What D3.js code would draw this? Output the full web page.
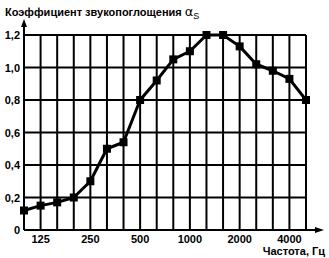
<!DOCTYPE html>
<html><head><meta charset="utf-8">
<script src="https://cdn.jsdelivr.net/npm/d3@7"></script>
<style>
body{margin:0;background:#fff;}
svg{display:block;}
text{font-family:"Liberation Sans",Arial,sans-serif;font-weight:bold;fill:#000;}
</style></head>
<body>
<svg id="c" width="329" height="258"></svg>
<script>
const frequencies = ["100","125","160","200","250","315","400","500","630","800","1000","1250","1600","2000","2500","3150","4000","5000"];
const absorption = [0.12,0.15,0.17,0.20,0.30,0.50,0.54,0.80,0.92,1.05,1.10,1.20,1.20,1.13,1.02,0.98,0.93,0.80];
const xTickLabels = ["125","250","500","1000","2000","4000"];
const yTicks = [0,0.2,0.4,0.6,0.8,1.0,1.2];
const titleText = "Коэффициент звукопоглощения ";
const xAxisTitle = "Частота, Гц";

const svg = d3.select("#c");
const L = 24, R = 306, T = 35, B = 230;
const x = d3.scalePoint().domain(frequencies).range([L, R]);
const y = d3.scaleLinear().domain([0, 1.2]).range([B, T]);

// grid
const g = svg.append("g");
g.selectAll("line.v").data(frequencies).join("line")
  .attr("x1", d => x(d)).attr("x2", d => x(d))
  .attr("y1", T).attr("y2", B)
  .attr("stroke", "#000").attr("stroke-width", 2);
g.selectAll("line.h").data(yTicks).join("line")
  .attr("x1", L).attr("x2", R)
  .attr("y1", d => y(d)).attr("y2", d => y(d))
  .attr("stroke", "#000").attr("stroke-width", 2);

// axes with arrows
svg.append("line").attr("x1", L).attr("x2", L).attr("y1", B).attr("y2", 24)
  .attr("stroke", "#000").attr("stroke-width", 2);
svg.append("path").attr("d", `M${L},19 L${L-3},27 L${L+3},27 Z`).attr("fill", "#000");
svg.append("line").attr("x1", L).attr("x2", 316).attr("y1", B).attr("y2", B)
  .attr("stroke", "#000").attr("stroke-width", 2);
svg.append("path").attr("d", `M324,${B} L315,${B-3} L315,${B+3} Z`).attr("fill", "#000");

// y labels
svg.selectAll("text.yl").data(yTicks).join("text")
  .attr("x", 20).attr("y", d => y(d) + 4)
  .attr("text-anchor", "end").attr("font-size", 11)
  .text(d => d === 0 ? "0" : d3.format(".1f")(d).replace(".", ","));

// x labels
svg.selectAll("text.xl").data(xTickLabels).join("text")
  .attr("x", d => x(d)).attr("y", 243)
  .attr("text-anchor", "middle").attr("font-size", 11)
  .text(d => d);

svg.append("text").attr("x", 325).attr("y", 255).attr("text-anchor", "end")
  .attr("font-size", 11).text(xAxisTitle);

// title
const t = svg.append("text").attr("x", 5).attr("y", 16).attr("font-size", 11);
t.append("tspan").text(titleText);
t.append("tspan").attr("font-family", "DejaVu Sans").attr("font-weight", "normal").attr("font-size", 13).text("α");
t.append("tspan").attr("font-size", 9).attr("font-weight","normal").attr("dy", 3).text("S");

// data
const line = d3.line().x((d, i) => x(frequencies[i])).y(d => y(d));
svg.append("path").datum(absorption).attr("d", line)
  .attr("fill", "none").attr("stroke", "#000").attr("stroke-width", 3).attr("stroke-linejoin", "round");
svg.selectAll("rect.m").data(absorption).join("rect")
  .attr("x", (d, i) => x(frequencies[i]) - 4).attr("y", d => y(d) - 4)
  .attr("width", 8).attr("height", 8).attr("fill", "#000");
</script>
</body></html>
